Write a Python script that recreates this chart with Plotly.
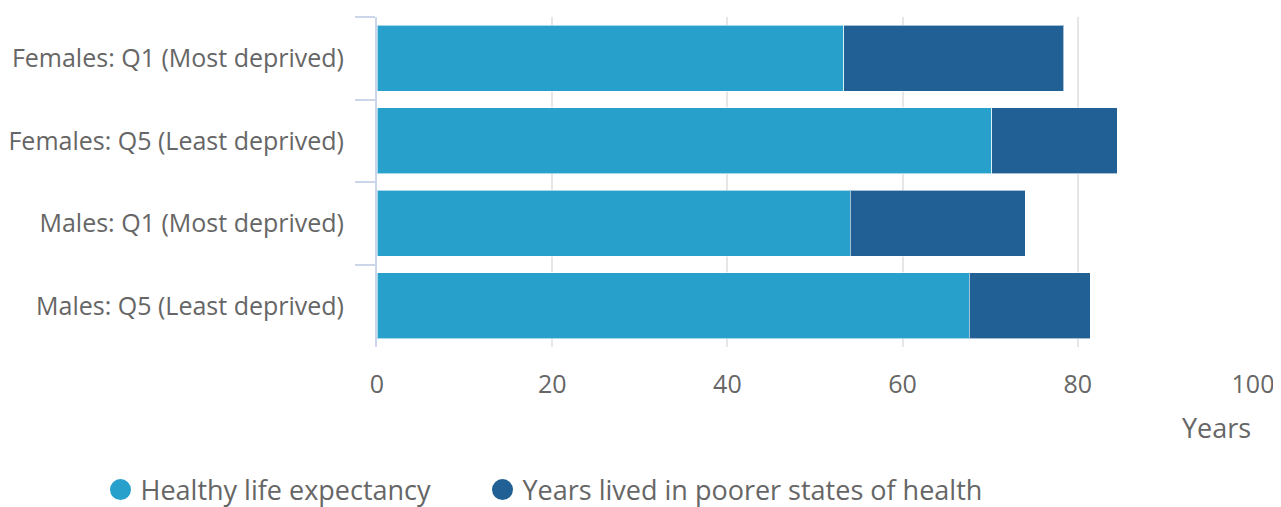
import plotly.graph_objects as go

categories = ["Females: Q1 (Most deprived)", "Females: Q5 (Least deprived)",
              "Males: Q1 (Most deprived)", "Males: Q5 (Least deprived)"]
healthy = [53.3, 70.2, 54.0, 67.6]
poorer = [25.1, 14.3, 20.0, 13.8]
series_names = ["Healthy life expectancy", "Years lived in poorer states of health"]
colors = ["#27a0cc", "#206095"]
x_ticks = [0, 20, 40, 60, 80, 100]

FONT = "Open Sans"
TXT = "#666666"
W, H = 1273, 499

fig = go.Figure()
for vals, name, col in zip([healthy, poorer], series_names, colors):
    fig.add_trace(go.Bar(
        y=categories, x=vals, orientation="h", name=name,
        marker=dict(color=col, line=dict(color="rgba(255,255,255,0.6)", width=1)),
        showlegend=False,
    ))
for i, (name, col) in enumerate(zip(series_names, colors)):
    fig.add_trace(go.Scatter(
        x=[None], y=[None], mode="markers", name=name,
        legend="legend" if i == 0 else "legend2",
        marker=dict(color=col, size=26, symbol="circle",
                    line=dict(color=col, width=5)),
    ))

leg_common = dict(
    orientation="h", xref="container", yref="container",
    y=17 / H, xanchor="left", yanchor="middle",
    font=dict(size=27, color=TXT), itemsizing="trace",
)

fig.update_layout(
    barmode="stack",
    bargap=0.2,
    width=W, height=H,
    margin=dict(l=369, r=28, t=9, b=160, autoexpand=False),
    plot_bgcolor="white", paper_bgcolor="white",
    font=dict(family=FONT, color=TXT, size=25),
    xaxis=dict(
        range=[0, 100], tickvals=x_ticks, showgrid=True, gridcolor="#e6e6e6",
        gridwidth=1.5, zeroline=False, showline=False, ticks="",
        tickfont=dict(size=25, color=TXT), ticklabelstandoff=20,
        automargin=False,
    ),
    yaxis=dict(
        autorange="reversed", showline=True, linecolor="#ccd6eb", linewidth=2,
        ticks="outside", tickson="boundaries", ticklen=20, tickcolor="#ccd6eb",
        tickwidth=2, tickfont=dict(size=25, color=TXT), ticklabelstandoff=26,
        automargin=False,
    ),
    legend=dict(x=92.5 / W, **leg_common),
    legend2=dict(x=474.5 / W, **leg_common),
    annotations=[dict(
        text="Years", xref="paper", yref="paper", x=1.0, y=-0.245,
        xanchor="right", yanchor="middle", showarrow=False,
        font=dict(size=27, color=TXT),
    )],
)

fig.write_html("out.html")
